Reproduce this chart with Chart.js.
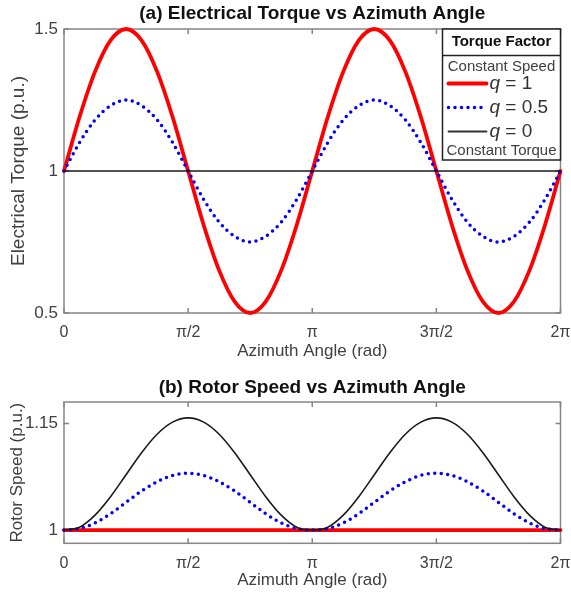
<!DOCTYPE html>
<html>
<head>
<meta charset="utf-8">
<title>Electrical Torque and Rotor Speed vs Azimuth Angle</title>
<script src="https://cdn.jsdelivr.net/npm/chart.js@4"></script>
<style>
  html, body { margin: 0; padding: 0; background: #fff; }
  #wrap { position: relative; width: 571px; height: 593px; }
  canvas { position: absolute; left: 0; }
</style>
</head>
<body>
<div id="wrap">
  <canvas id="torque-chart" width="571" height="366" style="top:0"></canvas>
  <canvas id="speed-chart" width="571" height="227" style="top:366px"></canvas>
</div>
<script>
// azimuth angle, in multiples of pi
const azimuth = [0, 0.0625, 0.125, 0.1875, 0.25, 0.3125, 0.375, 0.4375, 0.5, 0.5625, 0.625, 0.6875, 0.75, 0.8125, 0.875, 0.9375,
  1, 1.0625, 1.125, 1.1875, 1.25, 1.3125, 1.375, 1.4375, 1.5, 1.5625, 1.625, 1.6875, 1.75, 1.8125, 1.875, 1.9375, 2];
const angleTicks = [0, 0.5, 1, 1.5, 2];
const angleTickLabels = ['0', 'π/2', 'π', '3π/2', '2π'];

// (a) electrical torque, p.u.
const torqueQ1 = [1, 1.19, 1.35, 1.46, 1.5, 1.46, 1.35, 1.19, 1, 0.81, 0.65, 0.54, 0.5, 0.54, 0.65, 0.81,
  1, 1.19, 1.35, 1.46, 1.5, 1.46, 1.35, 1.19, 1, 0.81, 0.65, 0.54, 0.5, 0.54, 0.65, 0.81, 1];
const torqueQ05 = [1, 1.1, 1.18, 1.23, 1.25, 1.23, 1.18, 1.1, 1, 0.9, 0.82, 0.77, 0.75, 0.77, 0.82, 0.9,
  1, 1.1, 1.18, 1.23, 1.25, 1.23, 1.18, 1.1, 1, 0.9, 0.82, 0.77, 0.75, 0.77, 0.82, 0.9, 1];
const torqueQ0 = [1, 1, 1, 1, 1, 1, 1, 1, 1, 1, 1, 1, 1, 1, 1, 1,
  1, 1, 1, 1, 1, 1, 1, 1, 1, 1, 1, 1, 1, 1, 1, 1, 1];
const torqueTicks = [0.5, 1, 1.5];
const torqueTickLabels = ['0.5', '1', '1.5'];

// (b) rotor speed, p.u.
const speedQ1 = [1, 1, 1, 1, 1, 1, 1, 1, 1, 1, 1, 1, 1, 1, 1, 1,
  1, 1, 1, 1, 1, 1, 1, 1, 1, 1, 1, 1, 1, 1, 1, 1, 1];
const speedQ05 = [1, 1.002, 1.01, 1.023, 1.039, 1.055, 1.068, 1.077, 1.08, 1.077, 1.068, 1.055, 1.039, 1.023, 1.01, 1.002,
  1, 1.002, 1.01, 1.023, 1.039, 1.055, 1.068, 1.077, 1.08, 1.077, 1.068, 1.055, 1.039, 1.023, 1.01, 1.002, 1];
const speedQ0 = [1, 1.004, 1.021, 1.047, 1.078, 1.109, 1.135, 1.152, 1.158, 1.152, 1.135, 1.109, 1.078, 1.047, 1.021, 1.004,
  1, 1.004, 1.021, 1.047, 1.078, 1.109, 1.135, 1.152, 1.158, 1.152, 1.135, 1.109, 1.078, 1.047, 1.021, 1.004, 1];
const speedTicks = [1, 1.15];
const speedTickLabels = ['1', '1.15'];

const legendQ = ['1', '0.5', '0'];

const FONT = "'Liberation Sans', Arial, sans-serif";
const RED = '#ff0000';
const BLUE = '#0000ff';
const BLACK = '#1a1a1a';
const TEXT = '#404040';

// matlab style box with inward tick marks
const boxPlugin = {
  id: 'matlabBox',
  beforeDatasetsDraw(chart) {
    const { ctx, chartArea: a, scales: { x, y } } = chart;
    ctx.save();
    ctx.strokeStyle = '#858585';
    ctx.lineWidth = 1.5;
    ctx.strokeRect(a.left, a.top, a.right - a.left, a.bottom - a.top);
    ctx.beginPath();
    x.ticks.forEach(t => {
      const px = x.getPixelForValue(t.value);
      ctx.moveTo(px, a.bottom); ctx.lineTo(px, a.bottom - 5);
      ctx.moveTo(px, a.top); ctx.lineTo(px, a.top + 5);
    });
    y.ticks.forEach(t => {
      const py = y.getPixelForValue(t.value);
      ctx.moveTo(a.left, py); ctx.lineTo(a.left + 5, py);
      ctx.moveTo(a.right, py); ctx.lineTo(a.right - 5, py);
    });
    ctx.stroke();
    ctx.restore();
  }
};

// bold title centred over the plot box
function plotTitle(text, y) {
  return {
    id: 'plotTitle',
    afterDraw(chart) {
      const { ctx, chartArea: a } = chart;
      ctx.save();
      ctx.font = `bold 19px ${FONT}`;
      ctx.fillStyle = '#111';
      ctx.textAlign = 'center';
      ctx.textBaseline = 'middle';
      ctx.fillText(text, (a.left + a.right) / 2, y);
      ctx.restore();
    }
  };
}

// the boxed legend in the top right corner of plot (a)
const factorLegend = {
  id: 'factorLegend',
  afterDatasetsDraw(chart) {
    const { ctx, chartArea: a } = chart;
    const w = 118, h = 131;
    const left = a.right - w, top = a.top;
    const cx = left + w / 2;
    ctx.save();
    ctx.fillStyle = '#fff';
    ctx.fillRect(left, top, w, h);
    ctx.strokeStyle = '#222';
    ctx.lineWidth = 1.5;
    ctx.strokeRect(left, top, w, h);
    ctx.beginPath();
    ctx.moveTo(left, top + 26.5);
    ctx.lineTo(left + w, top + 26.5);
    ctx.stroke();

    ctx.textAlign = 'center';
    ctx.textBaseline = 'middle';
    ctx.fillStyle = '#111';
    ctx.font = `bold 15px ${FONT}`;
    ctx.fillText('Torque Factor', cx, top + 13);
    ctx.fillStyle = TEXT;
    ctx.font = `15px ${FONT}`;
    ctx.fillText('Constant Speed', cx, top + 38);
    ctx.fillText('Constant Torque', cx, top + 122);

    const styles = [
      { color: RED, width: 3.8, dash: [] },
      { color: BLUE, width: 3.5, dash: [0, 6.5] },
      { color: '#333', width: 1.8, dash: [] }
    ];
    styles.forEach((s, i) => {
      const yy = top + 54.5 + i * 24;
      ctx.beginPath();
      ctx.strokeStyle = s.color;
      ctx.lineWidth = s.width;
      ctx.lineCap = 'round';
      ctx.setLineDash(s.dash);
      ctx.moveTo(left + 6, yy);
      ctx.lineTo(left + 44, yy);
      ctx.stroke();
      ctx.setLineDash([]);
      ctx.textAlign = 'left';
      ctx.fillStyle = '#333';
      ctx.font = `italic 19px ${FONT}`;
      ctx.fillText('q', left + 47, yy);
      const qw = ctx.measureText('q').width;
      ctx.font = `19px ${FONT}`;
      ctx.fillText(' = ' + legendQ[i], left + 47 + qw, yy);
    });
    ctx.restore();
  }
};

function series(data, color, width, dash, order) {
  return {
    data: azimuth.map((a, i) => ({ x: a, y: data[i] })),
    borderColor: color,
    borderWidth: width,
    borderDash: dash,
    borderCapStyle: 'round',
    pointRadius: 0,
    cubicInterpolationMode: 'monotone',
    clip: false,
    order: order
  };
}

function makeChart(id, opts) {
  return new Chart(document.getElementById(id), {
    type: 'line',
    data: {
      datasets: [
        series(opts.q1, RED, 3.8, [], 3),
        series(opts.q05, BLUE, 3.5, [0, 6.5], 2),
        series(opts.q0, BLACK, 1.6, [], 1)
      ]
    },
    options: {
      responsive: false,
      animation: false,
      layout: { padding: { left: 0, right: 10.5, top: opts.topPad, bottom: 0 } },
      plugins: {
        legend: { display: false },
        tooltip: { enabled: false },
        title: { display: false }
      },
      scales: {
        x: {
          type: 'linear',
          min: 0,
          max: 2,
          afterBuildTicks: s => { s.ticks = angleTicks.map(v => ({ value: v })); },
          afterFit: s => { s.height = opts.xHeight; s.paddingLeft = 0; s.paddingRight = 0; },
          grid: { display: false, drawTicks: false },
          border: { display: false },
          ticks: {
            padding: opts.xTickPad,
            color: TEXT,
            font: { family: FONT, size: 16 },
            maxRotation: 0,
            callback: (v, i) => angleTickLabels[i]
          },
          title: {
            display: true,
            text: 'Azimuth Angle (rad)',
            color: TEXT,
            font: { family: FONT, size: 17 },
            padding: { top: 0, bottom: opts.xTitlePad }
          }
        },
        y: {
          type: 'linear',
          min: opts.yMin,
          max: opts.yMax,
          afterBuildTicks: s => { s.ticks = opts.yTicks.map(v => ({ value: v })); },
          afterFit: s => { s.width = 64; s.paddingTop = 0; s.paddingBottom = 0; },
          grid: { display: false, drawTicks: false },
          border: { display: false },
          ticks: {
            padding: 6,
            color: TEXT,
            font: { family: FONT, size: 17 },
            callback: (v, i) => opts.yTickLabels[i]
          },
          title: {
            display: true,
            text: opts.yTitle,
            color: TEXT,
            font: { family: FONT, size: opts.yTitleSize },
            padding: { top: opts.yTitlePad, bottom: 0 }
          }
        }
      }
    },
    plugins: opts.plugins
  });
}

document.addEventListener('DOMContentLoaded', () => {
  makeChart('torque-chart', {
    topPad: 29,
    q1: torqueQ1, q05: torqueQ05, q0: torqueQ0,
    yMin: 0.5, yMax: 1.5,
    yTicks: torqueTicks, yTickLabels: torqueTickLabels,
    yTitle: 'Electrical Torque (p.u.)', yTitleSize: 19, yTitlePad: 7,
    xHeight: 53, xTickPad: 9.5, xTitlePad: 4.8,
    plugins: [boxPlugin, factorLegend, plotTitle('(a) Electrical Torque vs Azimuth Angle', 14)]
  });

  makeChart('speed-chart', {
    topPad: 36,
    q1: speedQ1, q05: speedQ05, q0: speedQ0,
    yMin: 0.9813, yMax: 1.1804,
    yTicks: speedTicks, yTickLabels: speedTickLabels,
    yTitle: 'Rotor Speed (p.u.)', yTitleSize: 17, yTitlePad: 7.5,
    xHeight: 49.7, xTickPad: 10.5, xTitlePad: 2.8,
    plugins: [boxPlugin, plotTitle('(b) Rotor Speed vs Azimuth Angle', 22)]
  });
});
</script>
</body>
</html>
